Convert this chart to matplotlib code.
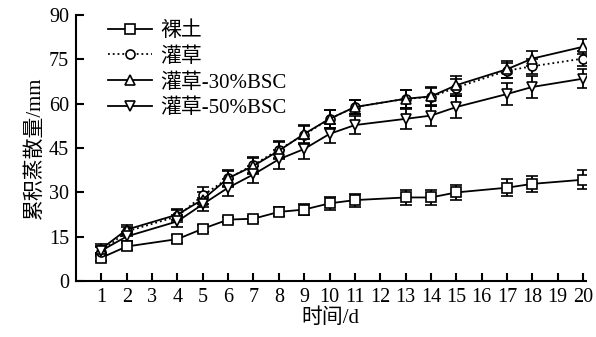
import matplotlib.pyplot as plt
from matplotlib.lines import Line2D

plt.rcParams['font.family'] = ['Liberation Serif', 'Noto Sans CJK SC']
plt.rcParams['axes.unicode_minus'] = False

days = [1, 2, 4, 5, 6, 7, 8, 9, 10, 11, 13, 14, 15, 17, 18, 20]

bare = [7.9, 11.7, 14.2, 17.7, 20.8, 21.1, 23.4, 24.2, 26.3, 27.4, 28.3, 28.3, 30.0, 31.6, 32.9, 34.3]
bare_err = [1.2, 1.2, 1.3, 1.2, 1.0, 1.0, 1.5, 2.0, 2.2, 2.2, 2.5, 2.4, 2.6, 2.8, 2.8, 3.3]

shrub = [10.0, 16.8, 21.9, 29.0, 34.8, 39.3, 44.5, 49.5, 54.9, 58.9, 61.7, 62.3, 65.5, 71.2, 72.7, 75.3]
shrub_err = [1.5, 1.5, 2.0, 2.8, 2.8, 2.8, 3.0, 3.0, 3.0, 2.5, 3.0, 3.0, 3.0, 2.5, 2.5, 2.5]

bsc30 = [10.9, 17.4, 22.5, 27.6, 34.8, 39.0, 44.1, 49.8, 54.9, 58.9, 61.7, 62.5, 66.3, 71.7, 75.3, 79.3]
bsc30_err = [1.5, 1.5, 2.0, 2.5, 2.5, 2.8, 2.8, 3.0, 3.0, 2.5, 3.0, 3.2, 3.0, 2.8, 2.5, 2.5]

bsc50 = [10.3, 15.1, 20.2, 26.0, 31.6, 36.1, 41.2, 44.7, 49.8, 52.8, 54.9, 56.0, 58.9, 63.3, 65.7, 68.5]
bsc50_err = [1.5, 1.5, 2.0, 2.2, 2.8, 3.0, 3.2, 3.5, 3.2, 3.0, 3.5, 3.5, 3.8, 3.8, 3.8, 3.2]

labels = ['裸土', '灌草', '灌草-30%BSC', '灌草-50%BSC']
markers = ['s', 'o', '^', 'v']
styles = ['-', ':', '-', '-']

fig = plt.figure(figsize=(5.96, 3.37), dpi=100)
ax = fig.add_axes([0.1275, 0.166, 0.855, 0.789])

common = dict(color='black', mfc='white', mec='black', ms=6.5, lw=1.3,
              elinewidth=1.3, capsize=4, capthick=1.5, mew=1.2)
series = [(bare, bare_err), (shrub, shrub_err), (bsc30, bsc30_err), (bsc50, bsc50_err)]
handles = []
for (vals, errs), lab, mk, ls in zip(series, labels, markers, styles):
    ax.errorbar(days, vals, yerr=errs, marker=mk, ls=ls, **common)
    handles.append(Line2D([], [], color='black', marker=mk, ls=ls, lw=1.3,
                          mfc='white', mec='black', ms=6.5, mew=1.2, label=lab))

ax.set_xlim(0, 20.1)
ax.set_ylim(0, 90)
ax.set_xticks(range(1, 21))
ax.set_yticks(range(0, 91, 15))
ax.spines['top'].set_visible(False)
ax.spines['right'].set_visible(False)
for s in ['left', 'bottom']:
    ax.spines[s].set_linewidth(1.5)
ax.tick_params(direction='in', length=6, width=1.5, labelsize=14.5, pad=5)
ax.set_xlabel('时间/d', fontsize=15, labelpad=1)
ax.set_ylabel('累积蒸散量/mm', fontsize=15, labelpad=3)

ax.legend(handles=handles, loc='upper left', bbox_to_anchor=(0.063, 0.977),
          frameon=False, fontsize=15, handlelength=2.1, handletextpad=0.4,
          labelspacing=0.3, borderaxespad=0, borderpad=0)

fig.savefig('out.png', dpi=100)
